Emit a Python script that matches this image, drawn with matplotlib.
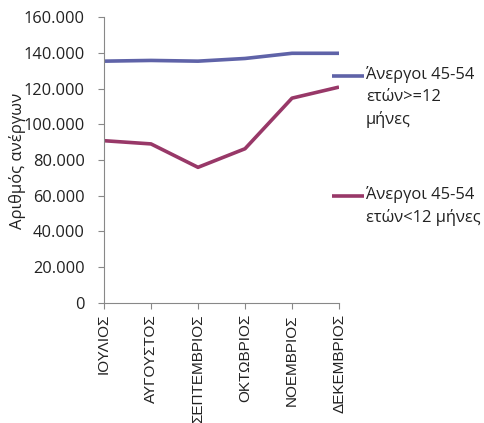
import matplotlib
matplotlib.use("Agg")
import matplotlib.pyplot as plt
from matplotlib.lines import Line2D
from matplotlib.ticker import FuncFormatter

plt.rcParams['font.family'] = ['Open Sans', 'DejaVu Sans']

months = ["ΙΟΥΛΙΟΣ", "ΑΥΓΟΥΣΤΟΣ", "ΣΕΠΤΕΜΒΡΙΟΣ", "ΟΚΤΩΒΡΙΟΣ", "ΝΟΕΜΒΡΙΟΣ", "ΔΕΚΕΜΒΡΙΟΣ"]
long_term = [135300, 135700, 135300, 136800, 139700, 139700]
short_term = [90800, 89000, 75900, 86300, 114600, 120800]
series_names = ["Άνεργοι 45-54\nετών>=12\nμήνες", "Άνεργοι 45-54\nετών<12 μήνες"]
colors = ["#5F63A8", "#983868"]
ylabel = "Αριθμός ανέργων"
yticks = [0, 20000, 40000, 60000, 80000, 100000, 120000, 140000, 160000]

fig = plt.figure(figsize=(4.85, 4.23), dpi=100)
ax = fig.add_axes([0.2144, 0.2837, 0.699 - 0.2144, 0.9598 - 0.2837])

x = list(range(len(months)))
ax.plot(x, long_term, color=colors[0], lw=2.6, solid_capstyle='butt')
ax.plot(x, short_term, color=colors[1], lw=2.6, solid_capstyle='butt')

ax.set_xlim(0, len(months) - 1)
ax.set_ylim(0, 160000)
ax.set_yticks(yticks)
ax.yaxis.set_major_formatter(FuncFormatter(lambda v, p: "0" if v == 0 else f"{int(v):,}".replace(",", ".")))
ax.set_xticks(x)
ax.set_xticklabels(months, rotation=90, family=['Liberation Sans', 'DejaVu Sans'], fontsize=11, color='#222222')
ax.tick_params(axis='y', labelsize=11.8, colors='#888888', labelcolor='#222222', length=4, width=0.8, pad=10)
ax.tick_params(axis='x', colors='#888888', labelcolor='#222222', length=4, width=0.8, pad=4)

for s in ['top', 'right']:
    ax.spines[s].set_visible(False)
for s in ['left', 'bottom']:
    ax.spines[s].set_color('#888888')
    ax.spines[s].set_linewidth(0.8)

W, H = 485, 423
def fx(px): return px / W
def fy(py): return 1 - py / H

fig.text(fx(18), fy(161), ylabel, fontsize=12, color='#222222', rotation=90, ha='center', va='center')

# legend
for ypix, name, c in [(76, series_names[0], colors[0]), (196, series_names[1], colors[1])]:
    fig.add_artist(Line2D([fx(332), fx(364)], [fy(ypix), fy(ypix)], color=c, lw=2.6, solid_capstyle='butt'))
    fig.text(fx(366), fy(ypix - 10), name, fontsize=11.9, color='#222222', va='top', ha='left', linespacing=1.5)

fig.savefig("out.png", dpi=100)
